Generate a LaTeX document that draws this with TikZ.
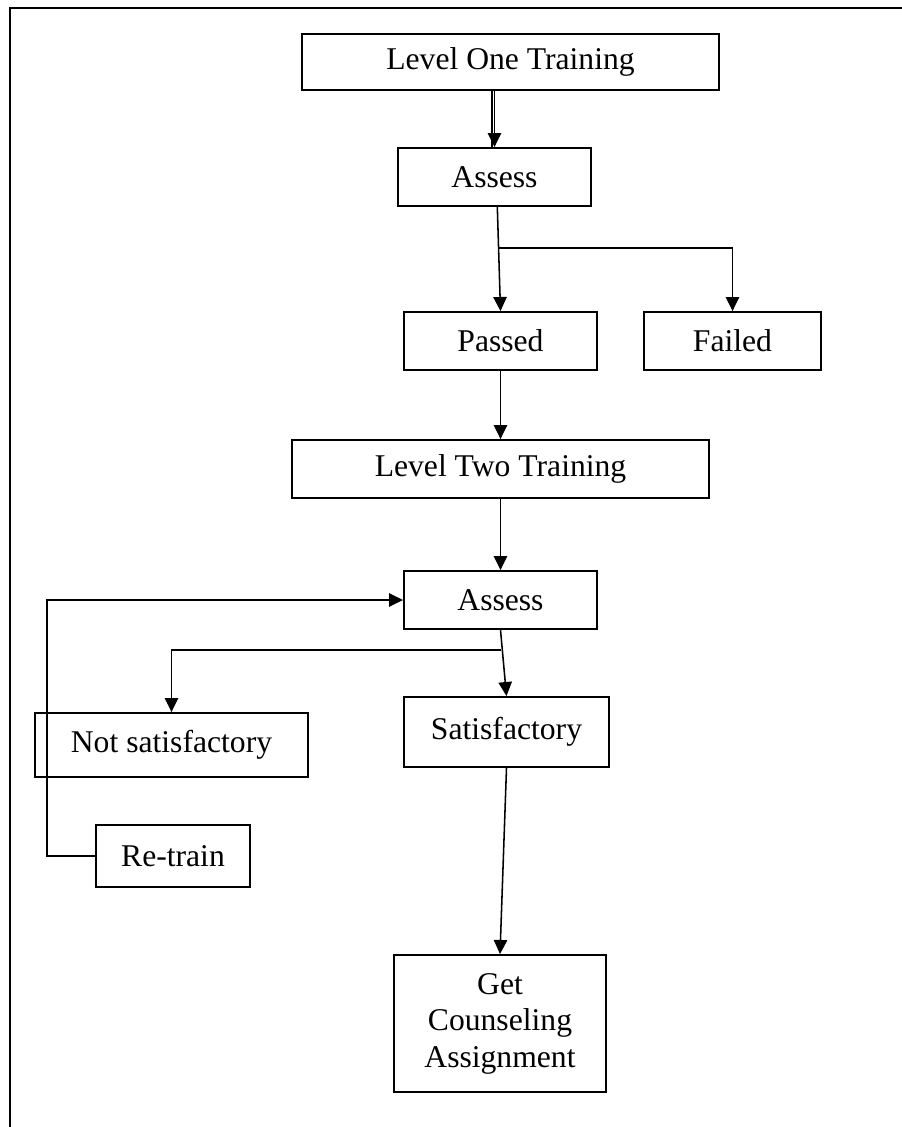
\documentclass[tikz,border=0pt]{standalone}
\usepackage{fontspec}
\setmainfont{Liberation Serif}
\usetikzlibrary{positioning,arrows.meta}
\tikzset{
    base/.style={font=\fontsize{22.5}{26}\selectfont, align=center},
    stage/.style={base, rectangle, draw=black, line width=1.3pt, inner sep=2pt},
    flow/.style={-{Triangle[length=10pt,width=9.5pt]}, line width=1.1pt, color=black},
    link/.style={line width=1.1pt, color=black},
    frame/.style={line width=1.8pt, color=black}
}
\begin{document}
\begin{tikzpicture}[x=0.025cm, y=-0.025cm]
  \useasboundingbox (0,0) rectangle (902,1127);
  % page frame (top and left edge only)
  \draw[frame] (10,1127) -- (10,8) -- (902,8);

  % first level
  \node[stage, minimum width=10.425cm, minimum height=1.4cm] (lvlOne) at (510.5,62) {Level One Training};
  \node[stage, minimum width=4.825cm, minimum height=1.45cm] (assessOne) at (494.5,177) {Assess};
  \node[stage, minimum width=4.825cm, minimum height=1.45cm] (passed) at (500.5,341) {Passed};
  \node[stage, minimum width=4.425cm, minimum height=1.45cm] (failed) at (732.5,341) {Failed};

  % second level
  \node[stage, minimum width=10.425cm, minimum height=1.45cm] (lvlTwo) at (500.5,469) {Level Two Training};
  \node[stage, minimum width=4.825cm, minimum height=1.45cm] (assessTwo) at (500.5,600) {Assess};
  \node[stage, minimum width=6.825cm, minimum height=1.6cm] (notSat) at (171.5,745) {Not satisfactory};
  \node[stage, minimum width=5.125cm, minimum height=1.75cm] (sat) at (506.5,732) {Satisfactory};
  \node[stage, minimum width=3.85cm, minimum height=1.55cm] (retrain) at (173,856) {Re-train};
  \node[stage, minimum width=5.3cm, minimum height=3.425cm] (counsel) at (500,1023.5) {Get\\Counseling\\Assignment};

  % helper points for the branches
  \coordinate (splitOne) at (498,248);
  \coordinate (splitTwo) at (501,650);
  \coordinate (back) at (47,856);

  % All connectors
  \draw[link] ([xshift=-1.8pt]lvlOne.south -| assessOne.north) -- ([xshift=-1.8pt]assessOne.north);
  \draw[flow] (lvlOne.south -| assessOne.north) -- (assessOne.north);
  \draw[flow] ([xshift=2pt]assessOne.south) -- (passed.north);
  \draw[flow] (splitOne) -| (failed.north);
  \draw[flow] (passed.south) -- (passed.south |- lvlTwo.north);
  \draw[flow] (lvlTwo.south) -- (assessTwo.north);
  \draw[flow] (assessTwo.south) -- (sat.north);
  \draw[flow] (splitTwo) -| (notSat.north);
  \draw[flow] (sat.south) -- (counsel.north);
  \draw[flow] (retrain.west) -- (back) |- (assessTwo.west);
\end{tikzpicture}
\end{document}
